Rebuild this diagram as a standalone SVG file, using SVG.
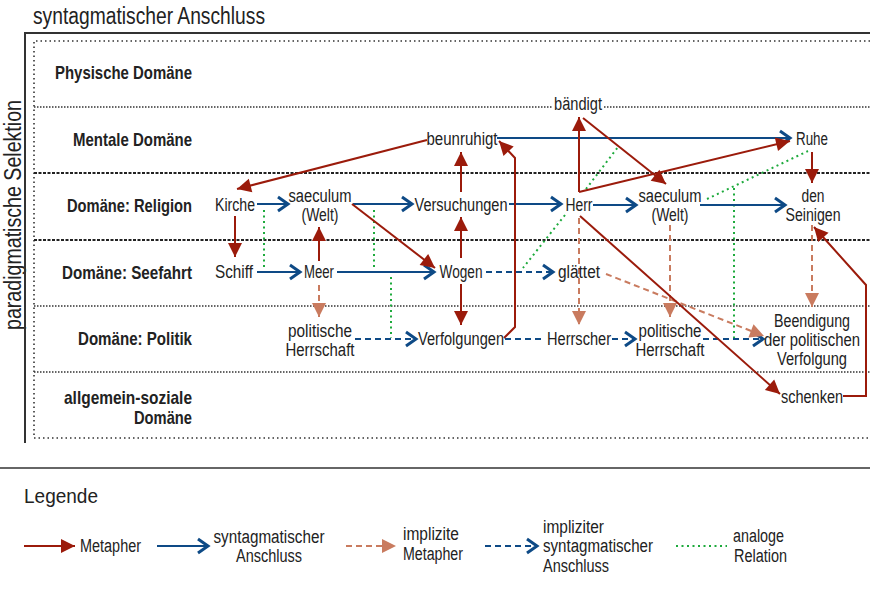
<svg xmlns="http://www.w3.org/2000/svg" width="870" height="590" viewBox="0 0 870 590">
<style>
text{font-family:"Liberation Sans",Arial,"DejaVu Sans",sans-serif;fill:#222;}
.n{font-size:18px;text-anchor:middle;}
.lab{font-size:19px;font-weight:bold;text-anchor:end;}
.big{font-size:23px;}
.lg{font-size:18px;}
.m{stroke:#9b1b0b;stroke-width:2;fill:none;marker-end:url(#redTri);}
.s{stroke:#0e4a86;stroke-width:2;fill:none;marker-end:url(#blueChev);}
.is{stroke:#0e4a86;stroke-width:2;fill:none;stroke-dasharray:6 4;}
.ism{marker-end:url(#blueChev);}
.im{stroke:#c97b5f;stroke-width:2;fill:none;stroke-dasharray:6 4;marker-end:url(#salTri);}
.a{stroke:#1daa3c;stroke-width:2;fill:none;stroke-dasharray:2 3.5;}
.frame{stroke:#333;stroke-width:2;fill:none;}
.box{stroke:#333;stroke-width:1.6;fill:none;stroke-dasharray:1.5 3;}
.row{stroke:#333;stroke-width:1.5;fill:none;stroke-dasharray:1.5 1.5;}
.rowb{stroke:#222;stroke-width:2.2;fill:none;stroke-dasharray:3 1.5;}
</style>
<defs>
<marker id="redTri" markerUnits="userSpaceOnUse" markerWidth="16" markerHeight="16" refX="14" refY="7" orient="auto" overflow="visible">
<path d="M0,0 L14,7 L0,14 Z" fill="#9b1b0b"/>
</marker>
<marker id="salTri" markerUnits="userSpaceOnUse" markerWidth="16" markerHeight="16" refX="14" refY="7" orient="auto" overflow="visible">
<path d="M0,0 L14,7 L0,14 Z" fill="#c97b5f"/>
</marker>
<marker id="blueChev" markerUnits="userSpaceOnUse" markerWidth="16" markerHeight="16" refX="11" refY="7" orient="auto" overflow="visible">
<path d="M1,0 L11,7 L1,14" fill="none" stroke="#0e4a86" stroke-width="3" stroke-dasharray="none"/>
</marker>
</defs>

<g id="frame">
<text class="big" x="33" y="24" textLength="232" lengthAdjust="spacingAndGlyphs">syntagmatischer Anschluss</text>
<text class="big" transform="translate(21,215) rotate(-90)" text-anchor="middle" textLength="230" lengthAdjust="spacingAndGlyphs">paradigmatische Selektion</text>
<path class="frame" d="M870,33 L25,33 L25,443"/>
<path class="box" d="M870,41 L34,41 L34,438 L870,438"/>
<path class="row" d="M34,107 L870,107"/>
<path class="rowb" d="M34,173 L870,173"/>
<path class="rowb" d="M34,240 L870,240"/>
<path class="row" d="M34,306 L870,306"/>
<path class="row" d="M34,372 L870,372"/>
</g>

<g id="rowlabels">
<text class="lab" x="192" y="79" textLength="137" lengthAdjust="spacingAndGlyphs">Physische Domäne</text>
<text class="lab" x="192" y="146" textLength="119" lengthAdjust="spacingAndGlyphs">Mentale Domäne</text>
<text class="lab" x="192" y="212" textLength="125" lengthAdjust="spacingAndGlyphs">Domäne: Religion</text>
<text class="lab" x="192" y="279" textLength="130" lengthAdjust="spacingAndGlyphs">Domäne: Seefahrt</text>
<text class="lab" x="192" y="345" textLength="114" lengthAdjust="spacingAndGlyphs">Domäne: Politik</text>
<text class="lab" x="192" y="404" textLength="128" lengthAdjust="spacingAndGlyphs">allgemein-soziale</text>
<text class="lab" x="192" y="424" textLength="58" lengthAdjust="spacingAndGlyphs">Domäne</text>
</g>

<g id="connectors">
<path class="a" d="M264,210 L264,268"/>
<path class="a" d="M374,210 L374,268"/>
<path class="a" d="M391,277 L391,338"/>
<path class="a" d="M565,215 L523,268"/>
<path class="a" d="M586,189 L618,147"/>
<path class="a" d="M707,199 L808,151"/>
<path class="a" d="M734,188 L734,339"/>
<path class="s" d="M257,204 L288,204"/>
<path class="s" d="M353,204 L412,204"/>
<path class="s" d="M509,204 L561,204"/>
<path class="s" d="M593,205 L636,205"/>
<path class="s" d="M700,205 L785,205"/>
<path class="s" d="M497,138 L790,138"/>
<path class="s" d="M257,272 L300,272"/>
<path class="s" d="M337,272 L434,272"/>
<path class="is ism" d="M486,272 L553,272"/>
<path class="is ism" d="M355,339 L416,339"/>
<path class="is" d="M505,339 L545,339"/>
<path class="is ism" d="M612,339 L635,339"/>
<path class="is ism" d="M703,339 L763,339"/>
<path class="im" d="M319,285 L319,317"/>
<path class="im" d="M579,218 L579,325"/>
<path class="im" d="M670,225 L670,317"/>
<path class="im" d="M812,225 L812,307"/>
<path class="im" d="M606,274 L764,336"/>
<path class="m" d="M427,140 L237,189"/>
<path class="m" d="M235,216 L235,257"/>
<path class="m" d="M319,261 L319,227"/>
<path class="m" d="M352,204 L435,268"/>
<path class="m" d="M461,192 L461,152"/>
<path class="m" d="M461,258 L461,217"/>
<path class="m" d="M461,284 L461,325"/>
<path class="m" d="M504,338 L515,327 L515,158 L499,141"/>
<path class="m" d="M579,192 L579,117"/>
<path class="m" d="M579,192 L790,141"/>
<path class="m" d="M583,118 L666,184"/>
<path class="m" d="M812,152 L812,183"/>
<path class="m" d="M580,216 L780,394"/>
<path class="m" d="M843,396 L866,396 L866,285 L814,227"/>
</g>

<g id="n-kirche"><text class="n" x="235" y="211" textLength="40" lengthAdjust="spacingAndGlyphs">Kirche</text></g>
<g id="n-saeculum1"><text class="n" x="320" y="202" textLength="63" lengthAdjust="spacingAndGlyphs">saeculum</text><text class="n" x="320" y="221" textLength="37" lengthAdjust="spacingAndGlyphs">(Welt)</text></g>
<g id="n-versuchungen"><text class="n" x="461" y="211" textLength="93" lengthAdjust="spacingAndGlyphs">Versuchungen</text></g>
<g id="n-herr"><text class="n" x="579" y="211" textLength="27" lengthAdjust="spacingAndGlyphs">Herr</text></g>
<g id="n-saeculum2"><text class="n" x="670" y="202" textLength="63" lengthAdjust="spacingAndGlyphs">saeculum</text><text class="n" x="670" y="221" textLength="37" lengthAdjust="spacingAndGlyphs">(Welt)</text></g>
<g id="n-seinigen"><text class="n" x="813" y="202" textLength="23" lengthAdjust="spacingAndGlyphs">den</text><text class="n" x="813" y="221" textLength="55" lengthAdjust="spacingAndGlyphs">Seinigen</text></g>
<g id="n-beunruhigt"><text class="n" x="462" y="145" textLength="71" lengthAdjust="spacingAndGlyphs">beunruhigt</text></g>
<g id="n-baendigt"><rect x="552" y="97" width="52" height="18" fill="#fff"/><text class="n" x="578" y="110" textLength="48" lengthAdjust="spacingAndGlyphs">bändigt</text></g>
<g id="n-ruhe"><text class="n" x="812" y="145" textLength="32" lengthAdjust="spacingAndGlyphs">Ruhe</text></g>
<g id="n-schiff"><text class="n" x="234" y="278" textLength="38" lengthAdjust="spacingAndGlyphs">Schiff</text></g>
<g id="n-meer"><text class="n" x="319" y="278" textLength="30" lengthAdjust="spacingAndGlyphs">Meer</text></g>
<g id="n-wogen"><text class="n" x="461" y="278" textLength="43" lengthAdjust="spacingAndGlyphs">Wogen</text></g>
<g id="n-glaettet"><text class="n" x="579" y="278" textLength="42" lengthAdjust="spacingAndGlyphs">glättet</text></g>
<g id="n-polherr1"><text class="n" x="320" y="337" textLength="64" lengthAdjust="spacingAndGlyphs">politische</text><text class="n" x="320" y="356" textLength="69" lengthAdjust="spacingAndGlyphs">Herrschaft</text></g>
<g id="n-verfolgungen"><text class="n" x="461" y="345" textLength="86" lengthAdjust="spacingAndGlyphs">Verfolgungen</text></g>
<g id="n-herrscher"><text class="n" x="579" y="345" textLength="64" lengthAdjust="spacingAndGlyphs">Herrscher</text></g>
<g id="n-polherr2"><text class="n" x="670" y="337" textLength="63" lengthAdjust="spacingAndGlyphs">politische</text><text class="n" x="670" y="356" textLength="69" lengthAdjust="spacingAndGlyphs">Herrschaft</text></g>
<g id="n-beendigung"><text class="n" x="812" y="327" textLength="76" lengthAdjust="spacingAndGlyphs">Beendigung</text><text class="n" x="812" y="346" textLength="96" lengthAdjust="spacingAndGlyphs">der politischen</text><text class="n" x="812" y="365" textLength="70" lengthAdjust="spacingAndGlyphs">Verfolgung</text></g>
<g id="n-schenken"><text class="n" x="812" y="403" textLength="62" lengthAdjust="spacingAndGlyphs">schenken</text></g>

<g id="legend">
<path d="M0,468 L870,468" stroke="#666" stroke-width="2"/>
<text x="24" y="503" style="font-size:20px" textLength="74" lengthAdjust="spacingAndGlyphs">Legende</text>
<path class="m" d="M24,546 L75,546"/>
<text class="lg" x="80" y="552" textLength="61" lengthAdjust="spacingAndGlyphs">Metapher</text>
<path class="s" d="M157,546 L208,546"/>
<text class="lg" x="269" y="543" text-anchor="middle" textLength="111" lengthAdjust="spacingAndGlyphs">syntagmatischer</text>
<text class="lg" x="269" y="562" text-anchor="middle" textLength="66" lengthAdjust="spacingAndGlyphs">Anschluss</text>
<path class="im" d="M346,546 L396,546"/>
<text class="lg" x="403" y="540" textLength="56" lengthAdjust="spacingAndGlyphs">implizite</text>
<text class="lg" x="403" y="560" textLength="60" lengthAdjust="spacingAndGlyphs">Metapher</text>
<path class="is ism" d="M485,546 L537,546"/>
<text class="lg" x="543" y="533" textLength="61" lengthAdjust="spacingAndGlyphs">impliziter</text>
<text class="lg" x="543" y="552" textLength="110" lengthAdjust="spacingAndGlyphs">syntagmatischer</text>
<text class="lg" x="543" y="572" textLength="66" lengthAdjust="spacingAndGlyphs">Anschluss</text>
<path class="a" d="M676,546 L727,546"/>
<text class="lg" x="733" y="542" textLength="51" lengthAdjust="spacingAndGlyphs">analoge</text>
<text class="lg" x="734" y="562" textLength="53" lengthAdjust="spacingAndGlyphs">Relation</text>
</g>
</svg>
